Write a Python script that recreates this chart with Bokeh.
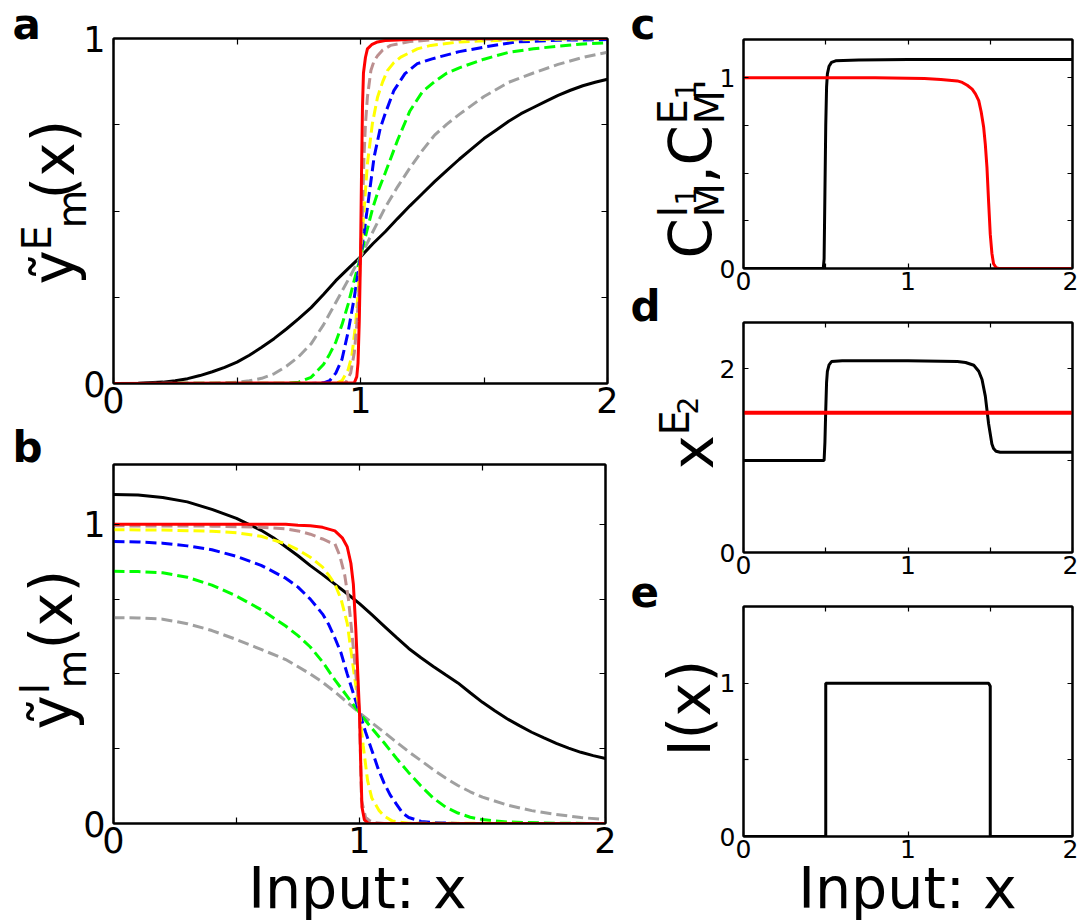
import math
from bokeh.plotting import figure
from bokeh.layouts import row, column
from bokeh.models import Range1d, FixedTicker, LinearAxis, Label, GridBox
from bokeh.embed import file_html
from bokeh.resources import INLINE

# ---------------- data ----------------
# panel a : y~^E_m(x)
a_black_x = [0, 0.1, 0.2, 0.25, 0.3, 0.35, 0.4, 0.45, 0.5, 0.55, 0.6, 0.65, 0.7, 0.75, 0.8, 0.85, 0.9, 0.95, 1.0,
             1.05, 1.1, 1.15, 1.2, 1.25, 1.3, 1.35, 1.4, 1.45, 1.5, 1.55, 1.6, 1.65, 1.7, 1.75, 1.8, 1.85, 1.9, 1.95, 2.0]
a_black_y = [0, 0.001, 0.004, 0.008, 0.014, 0.023, 0.034, 0.047, 0.062, 0.082, 0.105, 0.13, 0.158, 0.188, 0.22, 0.258,
             0.298, 0.333, 0.367, 0.405, 0.44, 0.478, 0.515, 0.55, 0.585, 0.618, 0.65, 0.68, 0.71, 0.735, 0.76, 0.782,
             0.8, 0.818, 0.835, 0.85, 0.863, 0.873, 0.882]
a_gray_x = [0, 0.4, 0.45, 0.5, 0.55, 0.6, 0.65, 0.7, 0.75, 0.8, 0.85, 0.9, 0.95, 1.0, 1.05, 1.1, 1.15, 1.2, 1.25, 1.3,
            1.35, 1.4, 1.5, 1.6, 1.7, 1.8, 1.9, 2.0]
a_gray_y = [0, 0.001, 0.002, 0.004, 0.008, 0.015, 0.028, 0.05, 0.078, 0.115, 0.17, 0.235, 0.3, 0.367, 0.44, 0.51, 0.57,
            0.625, 0.675, 0.72, 0.752, 0.78, 0.832, 0.873, 0.9, 0.925, 0.945, 0.96]
a_green_x = [0, 0.7, 0.75, 0.8, 0.85, 0.875, 0.9, 0.925, 0.95, 0.975, 1.0, 1.025, 1.05, 1.075, 1.1, 1.15, 1.2, 1.25,
             1.3, 1.35, 1.4, 1.5, 1.6, 1.7, 1.8, 1.9, 2.0]
a_green_y = [0, 0.001, 0.004, 0.018, 0.055, 0.085, 0.12, 0.17, 0.23, 0.3, 0.367, 0.44, 0.51, 0.565, 0.61, 0.705, 0.79,
             0.845, 0.875, 0.9, 0.915, 0.94, 0.96, 0.97, 0.978, 0.984, 0.988]
a_blue_x = [0, 0.8, 0.85, 0.875, 0.9, 0.925, 0.95, 0.975, 1.0, 1.015, 1.03, 1.055, 1.08, 1.1, 1.135, 1.18, 1.23, 1.29,
            1.4, 1.5, 1.63, 1.8, 2.0]
a_blue_y = [0, 0, 0.002, 0.008, 0.03, 0.07, 0.15, 0.25, 0.367, 0.44, 0.52, 0.656, 0.74, 0.782, 0.849, 0.898, 0.927,
            0.941, 0.962, 0.975, 0.99, 0.995, 0.997]
a_yellow_x = [0, 0.88, 0.9, 0.925, 0.95, 0.965, 0.98, 0.99, 1.0, 1.014, 1.028, 1.048, 1.069, 1.09, 1.109, 1.135, 1.163,
              1.23, 1.285, 1.4, 1.6, 2.0]
a_yellow_y = [0, 0, 0.001, 0.008, 0.04, 0.08, 0.17, 0.26, 0.367, 0.5, 0.637, 0.753, 0.83, 0.875, 0.907, 0.93, 0.946,
              0.97, 0.98, 0.99, 0.996, 1.0]
a_brown_x = [0, 0.93, 0.94, 0.96, 0.975, 0.985, 0.993, 1.0, 1.008, 1.014, 1.02, 1.028, 1.042, 1.055, 1.069, 1.09, 1.122,
             1.2, 1.3, 2.0]
a_brown_y = [0, 0, 0.002, 0.03, 0.09, 0.17, 0.26, 0.367, 0.5, 0.656, 0.75, 0.83, 0.907, 0.935, 0.95, 0.967, 0.98, 0.991,
             0.997, 1.0]
a_red_x = [0, 0.975, 0.985, 0.99, 0.995, 1.0, 1.004, 1.008, 1.012, 1.02, 1.028, 1.045, 1.069, 1.1, 1.15, 1.25, 2.0]
a_red_y = [0, 0.002, 0.02, 0.06, 0.18, 0.367, 0.6, 0.8, 0.9, 0.945, 0.97, 0.982, 0.99, 0.994, 0.996, 1.0, 1.0]

# panel b : y~^I_m(x)
b_black_x = [0, 0.1, 0.2, 0.3, 0.4, 0.5, 0.55, 0.6, 0.65, 0.7, 0.75, 0.8, 0.85, 0.9, 0.95, 1.0, 1.05, 1.1, 1.15, 1.2,
             1.25, 1.3, 1.35, 1.4, 1.45, 1.5, 1.55, 1.6, 1.65, 1.7, 1.75, 1.8, 1.85, 1.9, 1.95, 2.0]
b_black_y = [1.1, 1.098, 1.09, 1.075, 1.05, 1.02, 1.0, 0.98, 0.955, 0.925, 0.895, 0.862, 0.832, 0.8, 0.768, 0.735,
             0.698, 0.66, 0.622, 0.585, 0.554, 0.525, 0.497, 0.47, 0.437, 0.405, 0.377, 0.35, 0.327, 0.305, 0.286, 0.268,
             0.252, 0.238, 0.227, 0.217]
b_gray_x = [0, 0.1, 0.2, 0.3, 0.4, 0.5, 0.6, 0.7, 0.8, 0.85, 0.9, 0.95, 1.0, 1.05, 1.1, 1.15, 1.2, 1.25, 1.3, 1.35, 1.4,
            1.45, 1.5, 1.6, 1.7, 1.8, 1.9, 2.0]
b_gray_y = [0.688, 0.687, 0.683, 0.668, 0.645, 0.615, 0.582, 0.548, 0.5, 0.472, 0.44, 0.405, 0.37, 0.337, 0.305, 0.272,
            0.24, 0.21, 0.18, 0.152, 0.127, 0.106, 0.088, 0.062, 0.043, 0.03, 0.02, 0.013]
b_green_x = [0, 0.1, 0.2, 0.3, 0.4, 0.5, 0.6, 0.7, 0.75, 0.8, 0.85, 0.9, 0.95, 1.0, 1.05, 1.1, 1.15, 1.2, 1.25, 1.3,
             1.35, 1.4, 1.45, 1.5, 1.6, 1.8, 2.0]
b_green_y = [0.843, 0.842, 0.838, 0.823, 0.797, 0.76, 0.715, 0.66, 0.628, 0.59, 0.54, 0.48, 0.425, 0.37, 0.318, 0.27,
             0.218, 0.17, 0.125, 0.085, 0.055, 0.035, 0.021, 0.013, 0.005, 0.001, 0]
b_blue_x = [0, 0.1, 0.2, 0.3, 0.4, 0.5, 0.6, 0.7, 0.75, 0.8, 0.85, 0.875, 0.9, 0.925, 0.95, 0.975, 1.0, 1.025, 1.05,
            1.075, 1.1, 1.125, 1.15, 1.175, 1.2, 1.25, 1.3, 1.4, 2.0]
b_blue_y = [0.943, 0.941, 0.937, 0.928, 0.915, 0.893, 0.863, 0.82, 0.79, 0.75, 0.7, 0.665, 0.62, 0.57, 0.5, 0.435, 0.37,
            0.305, 0.245, 0.185, 0.135, 0.095, 0.065, 0.035, 0.02, 0.007, 0.003, 0, 0]
b_yellow_x = [0, 0.2, 0.4, 0.5, 0.6, 0.7, 0.75, 0.8, 0.85, 0.875, 0.9, 0.925, 0.95, 0.97, 0.985, 1.0, 1.015, 1.033,
              1.05, 1.08, 1.1, 1.134, 1.2, 2.0]
b_yellow_y = [0.982, 0.981, 0.977, 0.972, 0.96, 0.935, 0.915, 0.89, 0.857, 0.83, 0.8, 0.75, 0.67, 0.55, 0.46, 0.37,
              0.26, 0.143, 0.085, 0.043, 0.025, 0.008, 0.001, 0]
b_brown_x = [0, 0.4, 0.6, 0.7, 0.75, 0.8, 0.85, 0.88, 0.9, 0.92, 0.94, 0.955, 0.97, 0.985, 1.0, 1.008, 1.025, 1.04,
             1.06, 1.1, 2.0]
b_brown_y = [0.995, 0.994, 0.99, 0.985, 0.978, 0.967, 0.951, 0.94, 0.935, 0.895, 0.83, 0.75, 0.63, 0.5, 0.37, 0.077,
             0.02, 0.01, 0.003, 0, 0]
b_red_x = [0, 0.7, 0.75, 0.8, 0.85, 0.9, 0.93, 0.95, 0.965, 0.975, 0.985, 0.993, 1.0, 1.005, 1.01, 1.02, 1.035, 2.0]
b_red_y = [1.0, 1.0, 0.997, 0.995, 0.99, 0.978, 0.955, 0.925, 0.87, 0.8, 0.65, 0.5, 0.37, 0.2, 0.055, 0.012, 0.001, 0]

# panel c : C^I1_M (black), C^E1_M' (red)
c_black_x = [0, 0.485, 0.49, 0.495, 0.5, 0.505, 0.51, 0.52, 0.535, 0.56, 0.7, 1.0, 2.0]
c_black_y = [0, 0, 0.05, 0.4, 0.75, 0.95, 1.02, 1.06, 1.08, 1.088, 1.092, 1.095, 1.095]
c_red_x = [0, 0.8, 1.0, 1.1, 1.2, 1.3, 1.33, 1.36, 1.39, 1.41, 1.43, 1.445, 1.46, 1.47, 1.48, 1.49, 1.5, 1.51, 1.52,
           1.535, 1.55, 2.0]
c_red_y = [1.0, 0.999, 0.997, 0.995, 0.99, 0.983, 0.975, 0.96, 0.94, 0.915, 0.88, 0.82, 0.74, 0.65, 0.53, 0.35, 0.18,
           0.08, 0.025, 0.005, 0, 0]

# panel d : x^E2
d_black_x = [0, 0.49, 0.495, 0.5, 0.505, 0.51, 0.52, 0.535, 0.6, 1.0, 1.2, 1.3, 1.35, 1.4, 1.43, 1.45, 1.47, 1.49,
             1.51, 1.52, 1.535, 1.56, 2.0]
d_black_y = [1.0, 1.0, 1.2, 1.55, 1.85, 1.97, 2.04, 2.075, 2.085, 2.085, 2.08, 2.075, 2.065, 2.035, 1.97, 1.88, 1.7,
             1.4, 1.18, 1.13, 1.1, 1.09, 1.09]
d_red_x = [0, 2.0]
d_red_y = [1.52, 1.52]

# panel e : I(x)
e_black_x = [0, 0.5, 0.5, 1.49, 1.5, 1.5, 2.0]
e_black_y = [0, 0, 1.0, 1.0, 0.98, 0, 0]

# ticks (labelled, unlabelled)
x_major = [0, 1, 2]
x_minor = [0.5, 1.5]
q_major = [0, 1]
q_minor = [0.25, 0.5, 0.75]
d_major = [0, 2]
d_minor = [1]
e_major = [0, 1]
e_minor = [0.5]

FONT = "DejaVu Sans"
DASH = "11 5"


# ---------------- helpers ----------------
def make_fig(frame, ylim, borders, ymaj, ymin, tick_font, tick_len):
    L, T, W, H = frame
    bl, br, bt, bb = borders
    p = figure(frame_width=W, frame_height=H, x_range=Range1d(0, 2), y_range=Range1d(*ylim),
               output_backend="svg", toolbar_location=None,
               min_border_left=bl, min_border_right=br, min_border_top=bt, min_border_bottom=bb,
               x_axis_location=None, y_axis_location=None)
    p.grid.visible = False
    p.outline_line_color = "black"
    p.outline_line_width = 2
    p.background_fill_color = "white"
    p.border_fill_color = "white"
    for side, dim in (("below", "x"), ("above", "x"), ("left", "y"), ("right", "y")):
        maj, mnr = (x_major, x_minor) if dim == "x" else (ymaj, ymin)
        ax = LinearAxis()
        if side in ("below", "left"):
            ax.ticker = FixedTicker(ticks=maj, minor_ticks=mnr)
            ax.major_label_text_font_size = tick_font
            ax.major_label_standoff = 3 if dim == "x" else 8
        else:
            ax.ticker = FixedTicker(ticks=[], minor_ticks=maj + mnr)
            ax.major_label_standoff = 0
        ax.axis_line_color = "black"
        ax.axis_line_width = 2
        ax.major_tick_in = tick_len
        ax.major_tick_out = 0
        ax.major_tick_line_width = 1.2
        ax.major_tick_line_color = "black"
        ax.minor_tick_in = tick_len
        ax.minor_tick_out = 0
        ax.minor_tick_line_width = 1.2
        ax.minor_tick_line_color = "black"
        ax.major_label_text_font = FONT
        ax.major_label_text_color = "black"
        p.add_layout(ax, side)
    return p


# overlay figure for the free texts (panel letters and axis titles), in page pixels
W_PAGE, H_PAGE = 1078, 923
po = figure(width=W_PAGE, height=H_PAGE, x_range=Range1d(0, W_PAGE), y_range=Range1d(H_PAGE, 0),
            output_backend="svg", toolbar_location=None, min_border=0,
            x_axis_location=None, y_axis_location=None)
po.grid.visible = False
po.outline_line_color = None
po.background_fill_color = None
po.border_fill_color = None

UP = math.pi / 2
K_BASE = 0.385   # distance from the label anchor to the drawn baseline, in em


def put(px, py, text, size, up=False, bold=False, align="left"):
    """Place text so that its baseline starts at page pixel (px, py)."""
    if up:
        ax, ay, ang = px - K_BASE * size, py, UP
    else:
        ax, ay, ang = px, py - K_BASE * size, 0.0
    po.add_layout(Label(x=ax, y=ay, text=text, angle=ang, text_font=FONT,
                        text_font_size=f"{size}px", text_font_style="bold" if bold else "normal",
                        text_align=align, text_baseline="alphabetic", text_color="black"))


# ---------------- panel a ----------------
pa = make_fig((113, 38, 494, 345), (0, 1), (113, 13, 38, 45), q_major, q_minor, "35px", 6)
pa.line(a_black_x, a_black_y, line_color="black", line_width=3)
pa.line(a_gray_x, a_gray_y, line_color="#a0a0a0", line_width=3, line_dash=DASH)
pa.line(a_green_x, a_green_y, line_color="#00ff00", line_width=3, line_dash=DASH)
pa.line(a_blue_x, a_blue_y, line_color="#0000ff", line_width=3, line_dash=DASH)
pa.line(a_yellow_x, a_yellow_y, line_color="#ffff00", line_width=3, line_dash=DASH)
pa.line(a_brown_x, a_brown_y, line_color="#bc8f8f", line_width=3, line_dash=DASH)
pa.line(a_red_x, a_red_y, line_color="#ff0000", line_width=3)

# ---------------- panel b ----------------
pb = make_fig((111, 464, 492, 359), (0, 1.2), (111, 17, 36, 100), q_major, q_minor, "35px", 6)
pb.line(b_black_x, b_black_y, line_color="black", line_width=3)
pb.line(b_gray_x, b_gray_y, line_color="#a0a0a0", line_width=3, line_dash=DASH)
pb.line(b_green_x, b_green_y, line_color="#00ff00", line_width=3, line_dash=DASH)
pb.line(b_blue_x, b_blue_y, line_color="#0000ff", line_width=3, line_dash=DASH)
pb.line(b_yellow_x, b_yellow_y, line_color="#ffff00", line_width=3, line_dash=DASH)
pb.line(b_brown_x, b_brown_y, line_color="#bc8f8f", line_width=3, line_dash=DASH)
pb.line(b_red_x, b_red_y, line_color="#ff0000", line_width=3)

# ---------------- panel c ----------------
pc = make_fig((738, 39, 329, 229), (0, 1.2), (118, 11, 39, 34), q_major, q_minor, "25px", 5)
pc.line(c_black_x, c_black_y, line_color="black", line_width=3)
pc.line(c_red_x, c_red_y, line_color="#ff0000", line_width=3)

# ---------------- panel d ----------------
pd = make_fig((738, 322, 329, 230), (0, 2.5), (118, 11, 20, 34), d_major, d_minor, "25px", 5)
pd.line(d_black_x, d_black_y, line_color="black", line_width=3)
pd.line(d_red_x, d_red_y, line_color="#ff0000", line_width=4)

# ---------------- panel e ----------------
pe = make_fig((743, 606, 329, 230), (0, 1.5), (123, 6, 20, 87), e_major, e_minor, "25px", 5)
pe.line(e_black_x, e_black_y, line_color="black", line_width=3)

# ---------------- texts ----------------
for letter, lx, base in (("a", 12, 40), ("b", 12, 463), ("c", 630, 40), ("d", 630, 322), ("e", 630, 607)):
    put(lx, base, letter, 42, bold=True)

B, S, SS = 58, 40, 28

# a : y~ ^E _m (x)
put(76, 284, "ỹ", B, up=True)
put(52, 250, "E", S, up=True)
put(87, 228, "m", S, up=True)
put(76, 199, "(x)", B, up=True)

# b : y~ ^I _m (x)
put(74, 729, "ỹ", B, up=True)
put(50, 694, "I", S, up=True)
put(87, 688, "m", S, up=True)
put(74, 649, "(x)", B, up=True)
put(357, 909, "Input: x", 57, align="center")

# c : C^{I_1}_M , C^{E_1}_{M'}
put(713, 258, "C", B, up=True)
put(688, 217, "I", S, up=True)
put(696, 205, "1", SS, up=True)
put(725, 217, "M", S, up=True)
put(713, 183, ",", B, up=True)
put(713, 165, "C", B, up=True)
put(688, 124, "E", S, up=True)
put(696, 99, "1", SS, up=True)
put(725, 124, "M'", S, up=True)

# d : x^{E_2}
put(715, 469, "x", B, up=True)
put(690, 435, "E", S, up=True)
put(698, 414, "2", SS, up=True)

# e : I(x)
put(712, 756, "I(x)", B, up=True)
put(907, 909, "Input: x", 57, align="center")

main = row(column(pa, pb), column(pc, pd, pe))
layout = GridBox(children=[(main, 0, 0), (po, 0, 0)])
open("out.html", "w").write(file_html(layout, INLINE, "figure"))
